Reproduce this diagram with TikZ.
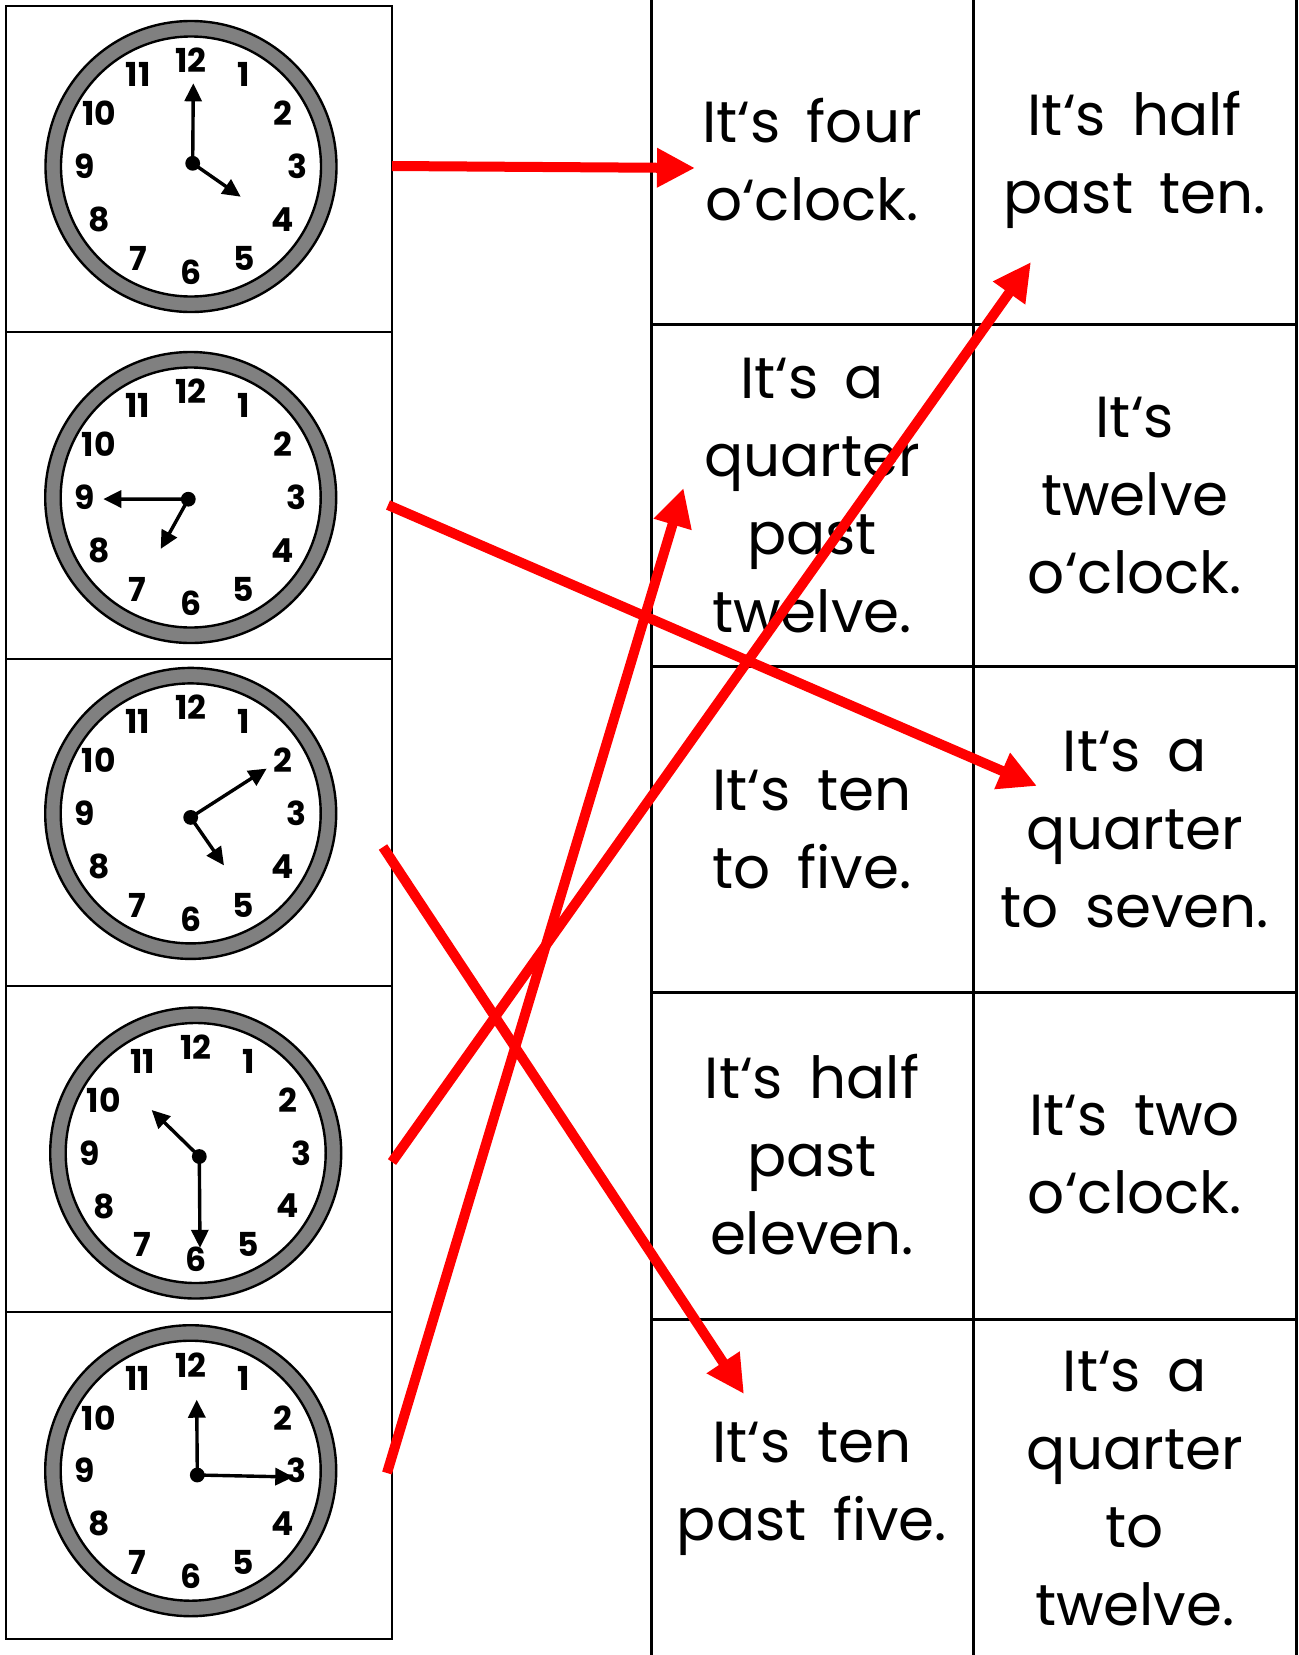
\documentclass[tikz,border=0pt]{standalone}
\usepackage{fontspec}
\setmainfont[WordSpace=1.7]{Poppins}
\usetikzlibrary{arrows.meta, positioning}

\begin{document}
\begin{tikzpicture}[
    x=0.5pt, y=-0.5pt,
    cell/.style={draw, line width=1.3pt},
    tableline/.style={line width=1.5pt},
    phrase/.style={align=center, inner sep=0pt, minimum width=161pt, font=\fontsize{29}{39}\selectfont},
    digit/.style={inner sep=0pt, font=\fontsize{16.5}{16.5}\selectfont\bfseries},
    hand/.style={-{Triangle[length=9pt, width=8.5pt]}, line width=1.7pt},
    arrow/.style={-{Triangle[length=19pt, width=18.5pt]}, line width=5pt, red}
]
    \useasboundingbox (0,0) rectangle (1299,1655);

    % Clock column
    \draw[cell] (6,6) rectangle (392,1639);
    \foreach \y in {332,659,986,1312}
        \draw[cell] (6,\y) -- (392,\y);

    % Clocks: face centre, hub, minute tip, hour tip
    \foreach \n/\cx/\cy/\ox/\oy/\mx/\my/\hx/\hy in {
        1/191/166.5/192.7/163.3/193.3/83.3/240.7/196.7,
        2/190.7/497.5/188.3/499.2/103.3/499/160.7/548.9,
        3/190.7/813.4/190.7/817.4/266.7/768.6/224/865.4,
        4/195.7/1153/199.3/1156.5/200/1247.8/151.7/1110,
        5/190.7/1470.7/197.3/1475/293.3/1477/196.7/1399.7}
    {
        \filldraw[fill=gray, line width=1.2pt] (\cx,\cy) circle (72.75pt);
        \filldraw[fill=white, line width=1.2pt] (\cx,\cy) circle (65pt);
        \foreach \h in {1,...,12}
            \node[digit] (n\n-\h) at ([shift={(90-\h*30:53pt)}] \cx,\cy) {\h};
        \coordinate (hub\n) at (\ox,\oy);
        \draw[hand] (hub\n) -- (\mx,\my);
        \draw[hand] (hub\n) -- (\hx,\hy);
        \fill (hub\n) circle (3.7pt);
    }

    % Phrase table
    \foreach \x in {651,973,1296}
        \draw[tableline] (\x,0) -- (\x,1655);
    \foreach \y in {324,666,992,1319}
        \draw[tableline] (651,\y) -- (1296,\y);

    \node[phrase] (p1a) at (812,160) {It‘s four\\o‘clock.};
    \node[phrase, right=0pt of p1a] (p1b) {It‘s half\\past ten.};
    \node[phrase] (p2a) at (812,496) {It‘s a\\quarter\\past\\twelve.};
    \node[phrase, right=0pt of p2a] (p2b) {It‘s\\twelve\\o‘clock.};
    \node[phrase] (p3a) at (812,830) {It‘s ten\\to five.};
    \node[phrase, right=0pt of p3a] (p3b) {It‘s a\\quarter\\to seven.};
    \node[phrase] (p4a) at (812,1155) {It‘s half\\past\\eleven.};
    \node[phrase, right=0pt of p4a] (p4b) {It‘s two\\o‘clock.};
    \node[phrase] (p5a) at (812,1489) {It‘s ten\\past five.};
    \node[phrase, right=0pt of p5a] (p5b) {It‘s a\\quarter\\to\\twelve.};

    % Matching arrows
    \coordinate (out1) at (392,166);
    \coordinate (out2) at (388,505);
    \coordinate (out3) at (383,847);
    \coordinate (out4) at (392,1162);
    \coordinate (out5) at (387,1473);
    \coordinate (in1) at (695,168);
    \coordinate (in2) at (1037,786);
    \coordinate (in3) at (744,1394);
    \coordinate (in4) at (1031,262);
    \coordinate (in5) at (683.5,488);

    \draw[arrow] (out1) -- (in1);
    \draw[arrow] (out2) -- (in2);
    \draw[arrow] (out3) -- (in3);
    \draw[arrow] (out4) -- (in4);
    \draw[arrow] (out5) -- (in5);
\end{tikzpicture}
\end{document}
